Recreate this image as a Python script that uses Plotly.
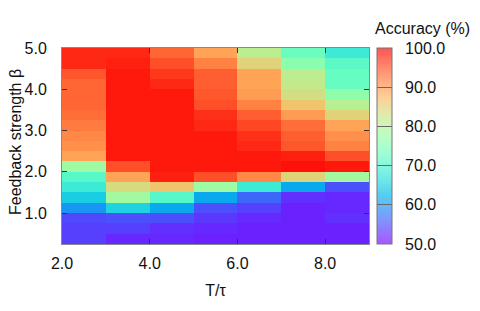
import numpy as np
import plotly.graph_objects as go

# Data: columns are T/tau bins, rows are beta bins (listed from top beta=4.875 down to 0.375)
t_tau = [2.5, 3.5, 4.5, 5.5, 6.5, 7.5, 8.5]
beta_top_down = [4.875, 4.625, 4.375, 4.125, 3.875, 3.625, 3.375, 3.125, 2.875, 2.625,
                 2.375, 2.125, 1.875, 1.625, 1.375, 1.125, 0.875, 0.625, 0.375]

col0 = [97.5, 97.5, 94.5, 93.5, 93.5, 93.5, 93.0, 92.0, 91.0, 90.5, 89.0, 78.0, 71.0, 68.5, 65.0, 60.0, 54.5, 54.0, 54.0]
col1 = [97.5, 98.0, 98.5, 98.5, 98.5, 98.5, 98.5, 98.5, 98.5, 98.5, 98.5, 95.0, 89.0, 83.5, 78.5, 65.5, 55.0, 54.0, 52.5]
col2 = [93.5, 95.0, 96.5, 97.5, 98.5, 98.5, 98.5, 98.5, 98.5, 98.5, 98.5, 98.5, 98.0, 86.0, 71.0, 61.5, 55.0, 53.0, 52.5]
col3 = [89.0, 91.5, 94.0, 94.0, 94.5, 95.0, 97.0, 97.5, 98.5, 98.5, 98.5, 98.5, 95.0, 78.0, 61.5, 55.0, 53.5, 52.5, 52.0]
col4 = [81.0, 84.5, 89.0, 89.0, 89.5, 91.5, 94.0, 95.5, 97.0, 97.5, 98.5, 98.5, 91.0, 68.5, 56.5, 54.0, 52.5, 52.0, 52.0]
col5 = [73.0, 76.0, 81.0, 81.5, 83.0, 86.0, 89.5, 93.0, 94.0, 94.5, 98.0, 99.0, 84.5, 61.5, 53.0, 52.0, 52.0, 52.0, 52.0]
col6 = [68.5, 71.5, 72.5, 72.5, 76.5, 80.5, 84.5, 89.0, 90.5, 91.5, 95.0, 98.5, 78.5, 55.0, 52.5, 52.5, 53.0, 52.0, 52.0]

x_ticks = [2, 4, 6, 8]
y_ticks = [1, 2, 3, 4, 5]
cbar_ticks = [50, 60, 70, 80, 90, 100]

columns = [col0, col1, col2, col3, col4, col5, col6]
z = [[columns[c][r] for c in range(len(t_tau))] for r in range(len(beta_top_down))]


def rainbow(n, wash=0.0):
    scale = []
    for i in range(n):
        f = i / (n - 1)
        r = min(1.0, abs(2 * f - 0.5))
        g = np.sin(np.pi * f)
        b = np.cos(np.pi * f / 2)
        r, g, b = [c * (1 - wash) + wash for c in (r, g, b)]
        scale.append([f, "rgb(%d,%d,%d)" % (round(r * 255), round(g * 255), round(max(b, 0) * 255))])
    return scale


FONT = "Liberation Sans, Arial, Helvetica, sans-serif"
TXT = "#111"

fig = go.Figure()
fig.add_trace(go.Heatmap(
    x=t_tau, y=beta_top_down, z=z,
    zmin=50, zmax=100, colorscale=rainbow(41), showscale=False,
    hoverinfo="skip",
))
fig.add_trace(go.Scatter(
    x=[None], y=[None], mode="markers", showlegend=False, hoverinfo="skip",
    marker=dict(
        color=[50], cmin=50, cmax=100, colorscale=rainbow(41, wash=0.33), showscale=True,
        colorbar=dict(
            thickness=15, thicknessmode="pixels", len=1, lenmode="fraction",
            x=(377 - 62) / 307, xanchor="left", xpad=0,
            y=0.5, yanchor="middle", ypad=0,
            outlinewidth=1, outlinecolor="#777",
            tickvals=cbar_ticks, ticktext=["\u00a0\u00a0%.1f" % v for v in cbar_ticks],
            ticks="inside", ticklen=15, tickwidth=1, tickcolor="#666",
            tickfont=dict(family=FONT, size=16, color=TXT),
        ),
    ),
))

fig.update_xaxes(
    range=[2, 9], tickvals=x_ticks, ticktext=["%.1f" % v for v in x_ticks],
    ticks="inside", ticklen=5, tickwidth=1, tickcolor="#333",
    showline=True, linecolor="rgba(60,60,60,0.6)", linewidth=1, mirror="ticks",
    showgrid=False, zeroline=False,
    tickfont=dict(family=FONT, size=16, color=TXT),
    ticklabelstandoff=5,
    title=dict(text="T/τ", font=dict(family=FONT, size=16, color=TXT), standoff=13),
)
fig.update_yaxes(
    range=[0.25, 5.0], tickvals=y_ticks, ticktext=["%.1f" % v for v in y_ticks],
    ticks="inside", ticklen=5, tickwidth=1, tickcolor="#333",
    showline=True, linecolor="rgba(60,60,60,0.6)", linewidth=1, mirror="ticks",
    showgrid=False, zeroline=False,
    tickfont=dict(family=FONT, size=16, color=TXT),
    ticklabelstandoff=11,
)

# y-axis title and colorbar title placed as annotations
fig.add_annotation(
    text="Feedback strength β", xref="paper", yref="paper",
    x=(15 - 62) / 307, y=(244 - 142) / 196, xanchor="center", yanchor="middle",
    textangle=-90, showarrow=False, font=dict(family=FONT, size=16, color=TXT),
)
fig.add_annotation(
    text="Accuracy (%)", xref="paper", yref="paper",
    x=(373 - 62) / 307, y=1 + (48 - 28) / 196, xanchor="left", yanchor="middle",
    showarrow=False, font=dict(family=FONT, size=16, color=TXT),
)

# the page adds an 8px body margin, so margins are offset by 8px
fig.update_layout(
    width=480, height=311,
    margin=dict(l=54, r=119, t=40, b=75, autoexpand=False),
    plot_bgcolor="white", paper_bgcolor="white",
)

fig.write_html("out.html")
